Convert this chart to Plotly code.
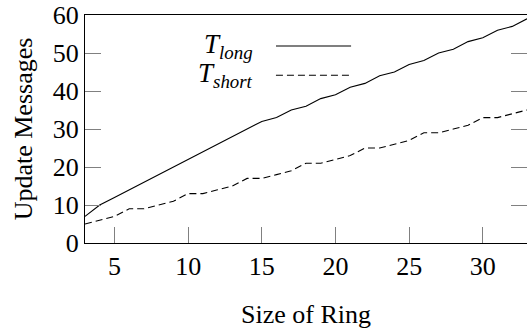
import plotly.graph_objects as go

ring_size = list(range(3, 34))
t_long = [7, 10, 12, 14, 16, 18, 20, 22, 24, 26, 28, 30, 32,
          33, 35, 36, 38, 39, 41, 42, 44, 45, 47, 48, 50, 51, 53, 54, 56, 57, 59]
t_short = [5, 6, 7, 9, 9, 10, 11, 13, 13, 14, 15, 17, 17,
           18, 19, 21, 21, 22, 23, 25, 25, 26, 27, 29, 29, 30, 31, 33, 33, 34, 35]
x_ticks = [5, 10, 15, 20, 25, 30]
y_ticks = [0, 10, 20, 30, 40, 50, 60]
legend_labels = ["<i>T</i><sub><i>long</i></sub>", "<i>T</i><sub><i>short</i></sub>"]

FONT = "Liberation Serif, Times New Roman, DejaVu Serif, serif"

fig = go.Figure()
fig.add_trace(go.Scatter(x=ring_size, y=t_long, mode="lines",
                         line=dict(color="black", width=1.1), showlegend=False))
fig.add_trace(go.Scatter(x=ring_size, y=t_short, mode="lines",
                         line=dict(color="black", width=1.1, dash="7px,4px"), showlegend=False))

# manual legend (text left, line sample right)
leg_y = [0.864, 0.7355]
dashes = ["solid", "7px,4px"]
for lab, yy, d in zip(legend_labels, leg_y, dashes):
    fig.add_annotation(xref="paper", yref="paper", x=0.384, y=yy, text=lab,
                       showarrow=False, xanchor="right", yanchor="middle",
                       font=dict(family=FONT, size=27, color="black"))
    fig.add_shape(type="line", xref="paper", yref="paper", x0=0.432, x1=0.602,
                  y0=yy, y1=yy, line=dict(color="black", width=1.1, dash=d))

axis_common = dict(showgrid=False, zeroline=False, showline=True, linecolor="black",
                   linewidth=1, ticks="inside", ticklen=16, tickwidth=1.2,
                   tickcolor="#808080",
                   tickfont=dict(family=FONT, size=26, color="black"))

fig.update_xaxes(range=[3, 33], tickvals=x_ticks, mirror=True,
                 title=dict(text="Size of Ring", font=dict(family=FONT, size=26, color="black"),
                            standoff=24),
                 **axis_common)
fig.update_yaxes(range=[0, 60], tickvals=y_ticks, mirror="ticks",
                 title=dict(text="Update Messages", font=dict(family=FONT, size=26, color="black"),
                            standoff=12),
                 **axis_common)

fig.update_layout(width=527, height=332, margin=dict(l=85, r=0, t=15, b=89),
                  plot_bgcolor="white", paper_bgcolor="white")

fig.write_html("out.html", config={"displayModeBar": False},
               post_script="document.body.style.margin='0';document.body.style.padding='0';")
